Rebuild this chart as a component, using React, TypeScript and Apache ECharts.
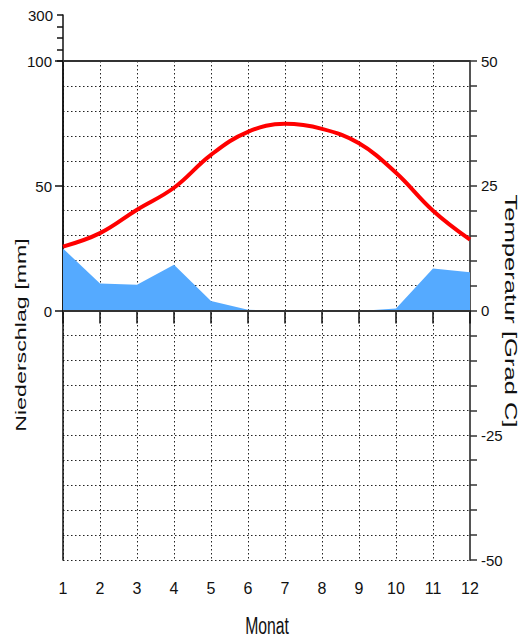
import React, { useEffect, useRef } from "react";
import * as echarts from "echarts";

const months = [1, 2, 3, 4, 5, 6, 7, 8, 9, 10, 11, 12];
const temperature = [12.8, 15.5, 20.2, 24.6, 31.2, 35.8, 37.4, 36.4, 33.5, 27.6, 20.0, 14.2];
const precipitation = [25, 11, 10.5, 18.5, 4, 0.5, 0, 0, 0, 1, 17, 15.5];
const tempLabels = [-50, -25, 0, 25, 50];
const upperLabels = [300];

const FONT = "'Liberation Sans Narrow', 'Liberation Sans', Arial, sans-serif";
const TITLE_FONT = "'Liberation Sans', Arial, sans-serif";
const dotted = { color: "#222", width: 1, type: [1.5, 2.5] as any };

export default function App() {
  const ref = useRef<HTMLDivElement>(null);
  useEffect(() => {
    if (!ref.current) return;
    const chart = echarts.init(ref.current, undefined, { renderer: "svg" });
    const option: any = {
      animation: false,
      backgroundColor: "#fff",
      grid: [
        { left: 63, right: 51, top: 61, height: 499 },
        { left: 63, right: 51, top: 61, height: 250 },
        { left: 63, right: 51, top: 15, height: 46 },
      ],
      xAxis: [
        {
          gridIndex: 0,
          type: "value",
          min: 1,
          max: 12,
          interval: 1,
          axisLine: { show: true, lineStyle: { color: "#111", width: 1.5 } },
          axisTick: { show: true, length: 13, lineStyle: { color: "#111", width: 1.5 } },
          axisLabel: { margin: 20, fontSize: 16, color: "#111", fontFamily: FONT },
          splitLine: { show: true, lineStyle: dotted },
        },
        { gridIndex: 1, type: "value", min: 1, max: 12, show: false },
        { gridIndex: 2, type: "value", min: 1, max: 12, show: false },
      ],
      yAxis: [
        {
          gridIndex: 1,
          type: "value",
          position: "left",
          min: 0,
          max: 100,
          interval: 50,
          axisLine: { show: true, lineStyle: { color: "#111", width: 1.5 } },
          axisTick: { show: true, length: 8, lineStyle: { color: "#111", width: 1.5 } },
          axisLabel: { margin: 11, fontSize: 15, color: "#111", fontFamily: FONT },
          splitLine: { show: false },
        },
        {
          gridIndex: 0,
          type: "value",
          position: "right",
          min: -50,
          max: 50,
          interval: 5,
          axisLine: { show: true, lineStyle: { color: "#555", width: 2 } },
          axisTick: { show: true, length: 7, lineStyle: { color: "#333", width: 1.5 } },
          axisLabel: {
            margin: 11,
            fontSize: 15,
            color: "#111",
            fontFamily: FONT,
            formatter: (v: number) => (tempLabels.indexOf(v) >= 0 ? String(v) : ""),
          },
          splitLine: { show: true, lineStyle: dotted },
        },
        {
          gridIndex: 0,
          type: "value",
          position: "left",
          min: -50,
          max: 50,
          axisLine: { show: true, lineStyle: { color: "#111", width: 1.5 } },
          axisTick: { show: false },
          axisLabel: { show: false },
          splitLine: { show: false },
        },
        {
          gridIndex: 2,
          type: "value",
          position: "left",
          min: 100,
          max: 300,
          interval: 50,
          axisLine: { show: true, lineStyle: { color: "#111", width: 1.5 } },
          axisTick: { show: true, length: 6, lineStyle: { color: "#111", width: 1.5 } },
          axisLabel: {
            margin: 10,
            fontSize: 15,
            color: "#111",
            fontFamily: FONT,
            formatter: (v: number) => (upperLabels.indexOf(v) >= 0 ? String(v) : ""),
          },
          splitLine: { show: false },
        },
      ],
      series: [
        {
          name: "Niederschlag",
          type: "line",
          xAxisIndex: 1,
          yAxisIndex: 0,
          data: months.map((m, i) => [m, precipitation[i]]),
          showSymbol: false,
          symbol: "none",
          lineStyle: { width: 0 },
          areaStyle: { color: "#55aaff", opacity: 1 },
          z: 2,
        },
        {
          name: "Temperatur",
          type: "line",
          xAxisIndex: 0,
          yAxisIndex: 1,
          data: months.map((m, i) => [m, temperature[i]]),
          smooth: 0.4,
          showSymbol: false,
          symbol: "none",
          lineStyle: { color: "#ff0000", width: 4 },
          z: 5,
          markLine: {
            silent: true,
            symbol: "none",
            label: { show: false },
            lineStyle: { color: "#333", width: 2, type: "solid" },
            data: [{ yAxis: 0 }, { yAxis: 50 }],
          },
        },
      ],
      graphic: [
        {
          type: "text",
          x: 21,
          y: 335,
          rotation: Math.PI / 2,
          scaleX: 1.55,
          scaleY: 1,
          style: {
            text: "Niederschlag [mm]",
            fontSize: 15,
            fontFamily: TITLE_FONT,
            fill: "#111",
            align: "center",
            verticalAlign: "middle",
            textAlign: "center",
            textVerticalAlign: "middle",
          },
        },
        {
          type: "text",
          x: 510,
          y: 311,
          rotation: -Math.PI / 2,
          scaleX: 1.6,
          scaleY: 1,
          style: {
            text: "Temperatur [Grad C]",
            fontSize: 16,
            fontFamily: TITLE_FONT,
            fill: "#111",
            align: "center",
            verticalAlign: "middle",
            textAlign: "center",
            textVerticalAlign: "middle",
          },
        },
        {
          type: "text",
          x: 267,
          y: 626,
          scaleX: 1.05,
          scaleY: 1.55,
          style: {
            text: "Monat",
            fontSize: 15,
            fontFamily: TITLE_FONT,
            fill: "#111",
            align: "center",
            verticalAlign: "middle",
            textAlign: "center",
            textVerticalAlign: "middle",
          },
        },
      ],
    };
    chart.setOption(option);
    return () => chart.dispose();
  }, []);
  return (
    <div
      ref={ref}
      style={{ position: "fixed", left: 0, top: 0, width: 521, height: 641, background: "#fff" }}
    />
  );
}
